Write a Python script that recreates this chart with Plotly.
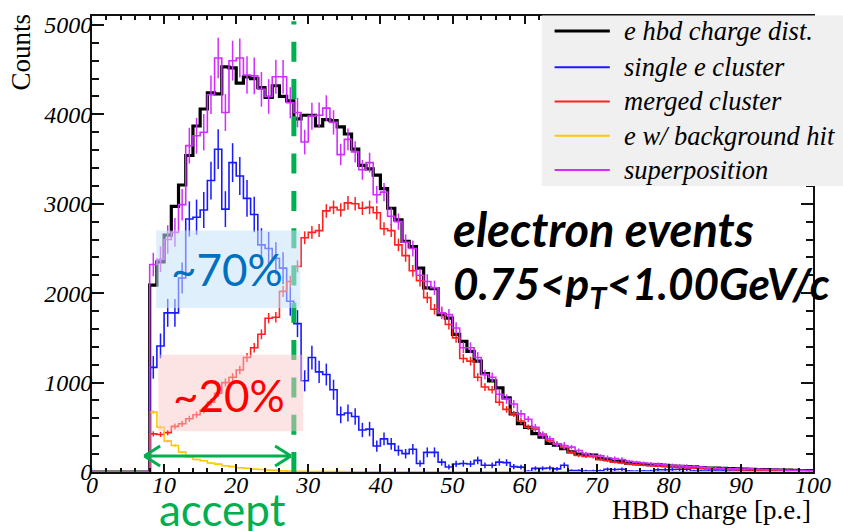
import numpy as np
import plotly.graph_objects as go

# ---------------- data (bin width 1 p.e., bins 0..99) ----------------
BIN_EDGES = list(range(0, 101))

hbd_charge = [0, 0, 0, 0, 0, 0, 0, 0,
              2090, 2350, 2650, 2970, 3210, 3540, 3870, 4060, 4240, 4230,
              4530, 4520, 4350, 4420, 4400, 4300, 4190, 4320, 4200, 4150,
              3950, 3990, 3990, 3870, 3940, 3930, 3860, 3780, 3610, 3430,
              3390, 3320, 3170, 2950, 2820, 2580, 2520, 2280, 2060, 2050,
              1760, 1720, 1540, 1460, 1350, 1240, 1100, 1020, 940, 830,
              650, 540, 500, 430, 390, 320, 300, 260, 225, 200,
              195, 190, 150, 140, 120, 115, 100, 95, 85, 82,
              80, 75, 65, 62, 60, 58, 50, 45, 43, 40,
              38, 35, 33, 30, 28, 27, 25, 22, 20, 18, 17, 15]

single_e = [0, 0, 0, 0, 0, 0, 0, 0,
            1170, 1410, 1780, 1780, 2170, 2830, 2850, 2930, 3260, 3610,
            2940, 3460, 3310, 3060, 2880, 2540, 2500, 2390, 2280, 1910,
            1660, 1020, 1280, 1120, 1090, 920, 640, 660, 620, 470,
            480, 290, 370, 315, 240, 205, 255, 95, 220, 220,
            110, 56, 90, 95, 90, 130, 75, 75, 110, 105,
            60, 55, 8, 40, 40, 45, 35, 75, 15, 15,
            12, 12, 14, 30, 28, 30, 10, 8, 10, 12,
            25, 25, 28, 30, 30, 12, 10, 10, 10, 10,
            8, 8, 8, 8, 8, 8, 6, 6, 6, 5, 5, 5]

merged = [0, 0, 0, 0, 0, 0, 0, 0,
          426, 420, 440, 510, 540, 595, 640, 690, 780, 880,
          1000, 1060, 1140, 1280, 1390, 1540, 1720, 1730, 2020, 2130,
          2300, 2620, 2680, 2700, 2920, 2960, 2930, 3010, 3000, 2950,
          2960, 2900, 2720, 2700, 2540, 2420, 2250, 2140, 1950, 1820,
          1780, 1650, 1500, 1270, 1240, 1060, 950, 920, 780, 700,
          650, 570, 500, 480, 425, 350, 310, 275, 220, 185,
          175, 170, 140, 125, 110, 100, 90, 80, 75, 70,
          65, 60, 55, 50, 47, 44, 40, 36, 33, 30,
          28, 26, 24, 22, 20, 19, 17, 16, 15, 14, 13, 12]

background_hit = [0, 0, 0, 0, 0, 0, 0, 0,
                  670, 500, 345, 296, 222, 170, 140, 125, 100, 88,
                  70, 60, 48, 42, 33, 28, 21, 18, 13, 10,
                  8, 7, 6, 5, 5, 4, 4, 3, 3, 3,
                  3, 3, 3, 3, 2, 2, 2, 2, 2, 2,
                  2, 2, 2, 2, 2, 2, 2, 2, 2, 2,
                  2, 2, 2, 2, 2, 2, 1, 1, 1, 1,
                  1, 1, 1, 1, 1, 1, 1, 1, 1, 1,
                  1, 1, 1, 1, 1, 1, 1, 1, 1, 1,
                  1, 1, 1, 1, 1, 1, 1, 1, 1, 1, 1, 1]

superposition = [0, 0, 0, 0, 0, 0, 0, 0,
                 2320, 2380, 2600, 2680, 2990, 3650, 3760, 3800, 4220, 4630,
                 4020, 4600, 4630, 4440, 4430, 4280, 4200, 4420, 4420, 4130,
                 4020, 3690, 3980, 3990, 4070, 3910, 3550, 3720, 3580, 3380,
                 3460, 3100, 3130, 2860, 2800, 2570, 2500, 2200, 2130, 2060,
                 1780, 1760, 1610, 1390, 1390, 1280, 1090, 1060, 870, 815,
                 760, 650, 590, 500, 410, 370, 315, 296, 278, 240,
                 205, 185, 180, 160, 150, 140, 120, 110, 100, 95,
                 85, 80, 72, 68, 65, 62, 55, 48, 42, 40,
                 37, 35, 32, 36, 30, 28, 30, 25, 20, 20, 18, 15]

# relative statistical error scales of the (weighted) component histograms
ERR_SCALE_SINGLE = 3.7
ERR_SCALE_MERGED = 1.4
ERR_SCALE_BG = 0.8

LEGEND_LABELS = ["e hbd charge dist.", "single e cluster", "merged cluster",
                 "e w/ background hit", "superposition"]
COLORS = ["#000000", "#1a1aff", "#ff2020", "#ffc800", "#d22cff"]

CUT_VALUE = 28            # accept cut [p.e.]
ACCEPT_FROM = 7.25        # arrow start
ACCEPT_TO = 27.6          # arrow end
ARROW_Y = 178

GREEN = "#00b050"
SERIF = "Liberation Serif, Times New Roman, serif"

# ---------------- derived ----------------
centers = [e + 0.5 for e in BIN_EDGES[:-1]]
s = np.array(single_e, float)
m = np.array(merged, float)
b = np.array(background_hit, float)
err_s = ERR_SCALE_SINGLE * np.sqrt(s)
err_m = ERR_SCALE_MERGED * np.sqrt(m)
err_b = ERR_SCALE_BG * np.sqrt(b)
err_sup = np.sqrt(err_s ** 2 + err_m ** 2 + err_b ** 2)

fig = go.Figure()


def add_hist(vals, color, width, err=None):
    fig.add_trace(go.Scatter(
        x=BIN_EDGES, y=list(vals) + [vals[-1]], mode="lines",
        line=dict(color=color, width=width, shape="hv"),
        showlegend=False, hoverinfo="skip"))
    if err is not None:
        yv = [v if v > 0 else None for v in vals]
        fig.add_trace(go.Scatter(
            x=centers, y=yv, mode="markers",
            marker=dict(size=1, color=color),
            error_y=dict(type="data", array=list(err), width=0,
                         thickness=1.5, color=color),
            showlegend=False, hoverinfo="skip"))


add_hist(hbd_charge, COLORS[0], 3.2)
add_hist(single_e, COLORS[1], 1.6, err_s)
add_hist(merged, COLORS[2], 1.6, err_m)
add_hist(background_hit, COLORS[3], 1.6, err_b)
add_hist(superposition, COLORS[4], 1.6, err_sup)

# ---------------- layout ----------------
L, R, T, B = 92, 20, 13, 59
W, H = 843, 531
PW, PH = W - L - R, H - T - B


def px(xp):
    return (xp - L) / PW


def py(yp):
    return (H - B - yp) / PH


tickfont = dict(family=SERIF, size=24, color="black", style="italic")

fig.update_layout(
    width=W, height=H, margin=dict(l=L, r=R, t=T, b=B),
    paper_bgcolor="white", plot_bgcolor="white",
    font=dict(family=SERIF, color="black"),
    xaxis=dict(range=[0, 100], showgrid=False, zeroline=False,
               showline=True, linecolor="#111", linewidth=2, mirror="ticks",
               ticks="inside", ticklen=8, tickwidth=1.5, tickcolor="#111",
               dtick=10, tick0=0, tickfont=tickfont, ticklabelstandoff=-10,
               minor=dict(ticks="inside", ticklen=4, dtick=2, tickwidth=1.5,
                          tickcolor="#111", showgrid=False)),
    yaxis=dict(range=[0, 5100], showgrid=False, zeroline=False,
               showline=True, linecolor="#111", linewidth=2, mirror="ticks",
               ticks="inside", ticklen=12, tickwidth=1.5, tickcolor="#111",
               dtick=1000, tick0=0, tickfont=tickfont, ticklabelstandoff=-7,
               minor=dict(ticks="inside", ticklen=7, dtick=200, tickwidth=1.5,
                          tickcolor="#111", showgrid=False)),
)

shapes = []
# green dashed cut line
shapes.append(dict(type="line", xref="x", yref="y", x0=CUT_VALUE, x1=CUT_VALUE,
                   y0=0, y1=5040, line=dict(color=GREEN, width=5, dash="20px,17.3px"),
                   layer="above"))
# accept arrow
shapes.append(dict(type="line", xref="x", yref="y", x0=ACCEPT_FROM, x1=ACCEPT_TO,
                   y0=ARROW_Y, y1=ARROW_Y, line=dict(color=GREEN, width=3), layer="above"))
for tip, d in ((ACCEPT_FROM, 1), (ACCEPT_TO, -1)):
    for dy in (1, -1):
        shapes.append(dict(type="line", xref="x", yref="y", x0=tip, y0=ARROW_Y,
                           x1=tip + d * 2.2, y1=ARROW_Y + dy * 112,
                           line=dict(color=GREEN, width=3), layer="above"))
# translucent highlight boxes
shapes.append(dict(type="rect", xref="x", yref="y", x0=8.9, x1=28.9, y0=1833, y1=2700,
                   fillcolor="rgba(199,225,249,0.55)", line=dict(width=0), layer="above"))
shapes.append(dict(type="rect", xref="x", yref="y", x0=9.2, x1=29.3, y0=456, y1=1311,
                   fillcolor="rgba(249,201,201,0.5)", line=dict(width=0), layer="above"))
# legend box
shapes.append(dict(type="rect", xref="paper", yref="paper", x0=px(548), x1=px(860),
                   y0=py(184), y1=py(12.5), fillcolor="#f0f0f0",
                   line=dict(width=0), layer="above"))
leg_y = [28, 64.5, 99, 133.5, 168]
for yy, c, lw in zip(leg_y, COLORS, [3, 2, 2, 2, 2]):
    shapes.append(dict(type="line", xref="paper", yref="paper", x0=px(561), x1=px(617),
                       y0=py(yy), y1=py(yy), line=dict(color=c, width=lw), layer="above"))

annotations = []
for yy, lab in zip(leg_y, LEGEND_LABELS):
    annotations.append(dict(xref="paper", yref="paper", x=px(629), y=py(yy),
                            xanchor="left", yanchor="middle", showarrow=False, text=lab,
                            font=dict(family=SERIF, size=26.5, color="black",
                                      style="italic")))

annotations += [
    dict(xref="paper", yref="paper", x=px(20), y=py(8), xanchor="center", yanchor="top",
         textangle=-90, showarrow=False, text="Counts",
         font=dict(family=SERIF, size=27, color="black")),
    dict(xref="paper", yref="paper", x=px(823), y=py(510), xanchor="right", yanchor="middle",
         showarrow=False, text="HBD charge [p.e.]",
         font=dict(family=SERIF, size=27, color="black")),
    dict(xref="paper", yref="paper", x=px(456), y=py(227), xanchor="left", yanchor="middle",
         showarrow=False, text="electron events",
         font=dict(family="Lato", size=47, color="black", weight="bold", style="italic")),
    dict(xref="paper", yref="paper", x=px(456), y=py(285), xanchor="left", yanchor="middle",
         showarrow=False, text="0.75&lt;p<sub>T</sub>&lt;1.00GeV/c",
         font=dict(family="Lato", size=44, color="black", weight="bold", style="italic")),
    dict(xref="paper", yref="paper", x=px(229), y=py(268), xanchor="center", yanchor="middle",
         showarrow=False, text="~70%",
         font=dict(family="Lato", size=44, color="#0070c0")),
    dict(xref="paper", yref="paper", x=px(231), y=py(394), xanchor="center", yanchor="middle",
         showarrow=False, text="~20%",
         font=dict(family="Lato", size=44, color="#ff0000")),
    dict(xref="paper", yref="paper", x=px(224), y=py(509), xanchor="center", yanchor="middle",
         showarrow=False, text="accept",
         font=dict(family="Lato", size=44, color=GREEN)),
]

fig.update_layout(shapes=shapes, annotations=annotations)
fig.write_html("out.html")
